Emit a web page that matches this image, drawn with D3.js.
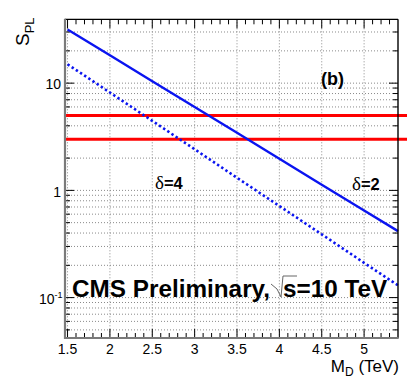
<!DOCTYPE html>
<html><head><meta charset="utf-8">
<script src="https://cdn.jsdelivr.net/npm/d3@7"></script>
<style>body{margin:0;background:#fff;}svg{display:block;font-family:"Liberation Sans",Arial,sans-serif;}</style>
</head><body>
<svg id="c" width="407" height="391"></svg>
<script>
// ---- data ----
const massPoints = [1.5, 2.0, 2.5, 3.0, 3.5, 4.0, 4.5, 5.0, 5.4];
const delta2Values = [31.6, 18.2, 10.4, 5.98, 3.44, 1.97, 1.13, 0.65, 0.417];
const delta4Values = [15.0, 8.18, 4.45, 2.42, 1.31, 0.715, 0.389, 0.211, 0.130];
const thresholdValues = [5, 3];
const xTickValues = [1.5, 2, 2.5, 3, 3.5, 4, 4.5, 5];
const xTickLabels = ["1.5", "2", "2.5", "3", "3.5", "4", "4.5", "5"];
const yMajorTicks = [0.1, 1, 10];

const svg = d3.select("#c");
const L = 65, R = 398, T = 19.3, B = 338;
const x = d3.scaleLinear().domain([1.47, 5.4]).range([L, R]);
const y = d3.scaleLog().domain([0.042, 39.4]).range([B, T]);

// grid
const minorX = d3.range(15, 54).map(d => d / 10);
const yAll = [];
[0.01, 0.1, 1, 10].forEach(dec => { for (let k = 1; k <= 9; k++) { const v = dec * k; if (v >= 0.042 && v <= 39.4) yAll.push(v); } });
const g = svg.append("g");
g.selectAll(".gx").data(xTickValues).enter().append("line")
  .attr("x1", d => x(d)).attr("x2", d => x(d)).attr("y1", T).attr("y2", B)
  .attr("stroke", "#8a8a8a").attr("stroke-width", 1).attr("stroke-dasharray", "1,2");
g.selectAll(".gy").data(yAll).enter().append("line")
  .attr("x1", L).attr("x2", R).attr("y1", d => y(d)).attr("y2", d => y(d))
  .attr("stroke", "#8a8a8a").attr("stroke-width", 1).attr("stroke-dasharray", "1,2");

// ticks
const tk = svg.append("g").attr("stroke", "#000").attr("stroke-width", 1);
minorX.forEach(v => {
  const major = Math.abs(v * 2 - Math.round(v * 2)) < 1e-6;
  const len = major ? 9 : 5;
  tk.append("line").attr("x1", x(v)).attr("x2", x(v)).attr("y1", B).attr("y2", B - len);
  tk.append("line").attr("x1", x(v)).attr("x2", x(v)).attr("y1", T).attr("y2", T + len);
});
yAll.forEach(v => {
  const major = yMajorTicks.includes(v);
  const len = major ? 9 : 5;
  tk.append("line").attr("x1", L).attr("x2", L + len).attr("y1", y(v)).attr("y2", y(v));
  tk.append("line").attr("x1", R).attr("x2", R - len).attr("y1", y(v)).attr("y2", y(v));
});

// threshold lines
svg.selectAll(".th").data(thresholdValues).enter().append("line")
  .attr("x1", L).attr("x2", R + 9).attr("y1", d => y(d)).attr("y2", d => y(d))
  .attr("stroke", "#ff0000").attr("stroke-width", 3);

// curves
const line = d3.line().x(d => x(d[0])).y(d => y(d[1]));
svg.append("path").datum(massPoints.map((m, i) => [m, delta2Values[i]]))
  .attr("d", line).attr("fill", "none").attr("stroke", "#0a14f0").attr("stroke-width", 2.4);
svg.append("path").datum(massPoints.map((m, i) => [m, delta4Values[i]]))
  .attr("d", line).attr("fill", "none").attr("stroke", "#0a14f0").attr("stroke-width", 2.6)
  .attr("stroke-dasharray", "2.4,2.6");

// frame
svg.append("line").attr("x1", L).attr("x2", R).attr("y1", T).attr("y2", T).attr("stroke", "#000").attr("stroke-width", 1.2);
svg.append("line").attr("x1", R).attr("x2", R).attr("y1", T).attr("y2", B).attr("stroke", "#000").attr("stroke-width", 1.4);
svg.append("line").attr("x1", L).attr("x2", L).attr("y1", T - 0.5).attr("y2", B + 1).attr("stroke", "#7a7a7a").attr("stroke-width", 2.2);
svg.append("line").attr("x1", L - 1).attr("x2", R + 0.7).attr("y1", B).attr("y2", B).attr("stroke", "#7a7a7a").attr("stroke-width", 2);

// x tick labels
svg.selectAll(".xl").data(xTickValues).enter().append("text")
  .attr("x", d => x(d)).attr("y", 354).attr("text-anchor", "middle")
  .attr("font-size", 14).attr("fill", "#000").text((d, i) => xTickLabels[i]);

// y tick labels
svg.append("text").attr("x", 61).attr("y", 88.5).attr("text-anchor", "end").attr("font-size", 14).text("10");
svg.append("text").attr("x", 61).attr("y", 196.5).attr("text-anchor", "end").attr("font-size", 14).text("1");
const t01 = svg.append("text").attr("x", 39).attr("y", 304.3).attr("font-size", 14);
t01.append("tspan").text("10");
t01.append("tspan").attr("font-size", 9).attr("dy", -6).text("-1");

// axis titles
const yt = svg.append("text").attr("transform", "translate(29,46) rotate(-90)").attr("font-size", 19);
yt.append("tspan").text("S");
yt.append("tspan").attr("font-size", 13).attr("dy", 5).text("PL");
const xt = svg.append("text").attr("x", 399).attr("y", 372).attr("text-anchor", "end").attr("font-size", 17);
xt.append("tspan").text("M");
xt.append("tspan").attr("font-size", 12).attr("dy", 4).text("D");
xt.append("tspan").attr("dy", -4).text(" (TeV)");

// labels
svg.append("text").attr("x", 321).attr("y", 85).attr("font-size", 18).attr("font-weight", "bold").text("(b)");
function deltaLabel(xp, yp, num) {
  const t = svg.append("text").attr("x", xp).attr("y", yp).attr("font-size", 16.5);
  t.append("tspan").attr("font-family", "'Liberation Serif',serif").attr("font-size", 19).text("δ");
  t.append("tspan").attr("font-weight", "bold").text("=" + num);
}
deltaLabel(155, 189, 4);
deltaLabel(352, 190, 2);

// CMS label
svg.append("text").attr("x", 72).attr("y", 297).attr("font-size", 24.3).attr("font-weight", "bold").text("CMS Preliminary,");
svg.append("text").attr("x", 283).attr("y", 297).attr("font-size", 24.3).attr("font-weight", "bold").text("s=10 TeV");
svg.append("path").attr("d", "M271,284 L277,289 L281,297 L283,276 L297,276")
  .attr("fill", "none").attr("stroke", "#666").attr("stroke-width", 1);
</script>
</body></html>
